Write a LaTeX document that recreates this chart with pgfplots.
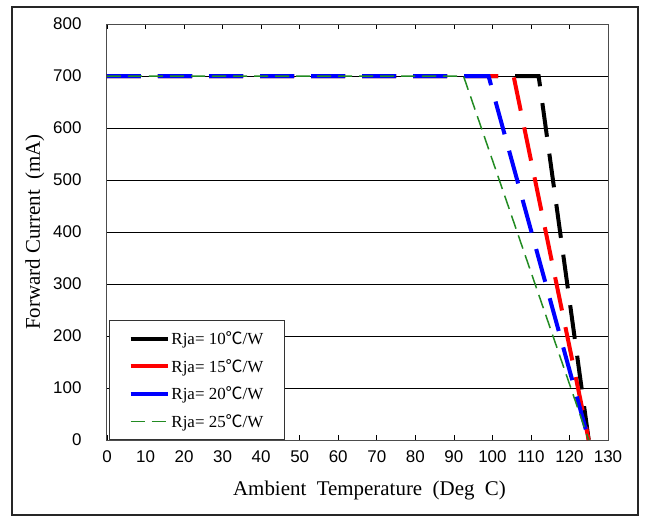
\documentclass[border=0pt]{standalone}
\usepackage{fontspec}
\setmainfont{Liberation Serif}
\newfontfamily\ticksf{Liberation Sans}
\newfontfamily\cjk{Noto Sans CJK SC}
\usepackage{pgfplots}
\pgfplotsset{compat=1.18}
\definecolor{dgreen}{RGB}{34,139,34}
\begin{document}
\begin{tikzpicture}
\path[use as bounding box] (-107bp,-78bp) rectangle (541bp,440bp);
\draw[line width=1.2bp, black!85] (-95bp,-75bp) rectangle (531bp,433bp);
\begin{axis}[
  at={(0,0)}, anchor=origin,
  scale only axis, width=501bp, height=416bp,
  xmin=0, xmax=130, ymin=0, ymax=800,
  xtick={0,10,...,130}, ytick={0,100,...,800},
  ymajorgrids, grid style={black, line width=0.7bp},
  tick align=inside, tick style={black, line width=0.6bp},
  major tick length=5bp,
  axis line style={black!70, line width=1bp},
  ticklabel style={font=\fontsize{17}{18}\selectfont\ticksf},
  xticklabel style={yshift=-7bp},
  yticklabel style={xshift=-22bp},
  /pgf/number format/assume math mode=true,
  xlabel={Ambient\ \ Temperature\ \ (Deg\ \ C)},
  ylabel={Forward Current\ \ (mA)},
  label style={font=\fontsize{21}{23}\selectfont},
  xlabel style={yshift=-12bp, xshift=12bp},
  ylabel style={yshift=2bp},
  legend style={at={(0.004,0)}, anchor=south west, draw=black!80, line width=1bp,
    font=\fontsize{17}{19}\selectfont, row sep=9bp, inner xsep=19bp, inner ysep=9bp, fill=white,
    /tikz/every even column/.append style={column sep=7bp}},
  legend cell align=left,
  legend image code/.code={\draw[#1] (0bp,0bp) -- (37bp,0bp);},
]
\addplot[black, line width=4bp, dash pattern=on 34bp off 17bp, legend image post style={solid}] coordinates {(0,700) (112,700) (125,0)};
\addlegendentry{Rja= 10{\cjk ℃}/W}
\addplot[red, line width=4bp, dash pattern=on 34bp off 17bp, legend image post style={solid}] coordinates {(0,700) (105.5,700) (125,0)};
\addlegendentry{Rja= 15{\cjk ℃}/W}
\addplot[blue, line width=4bp, dash pattern=on 34bp off 17bp, legend image post style={solid}] coordinates {(0,700) (99,700) (125,0)};
\addlegendentry{Rja= 20{\cjk ℃}/W}
\addplot[dgreen, line width=1.5bp, dash pattern=on 14bp off 7bp] coordinates {(0,700) (92.5,700) (125,0)};
\addlegendentry{Rja= 25{\cjk ℃}/W}
\end{axis}
\end{tikzpicture}
\end{document}
